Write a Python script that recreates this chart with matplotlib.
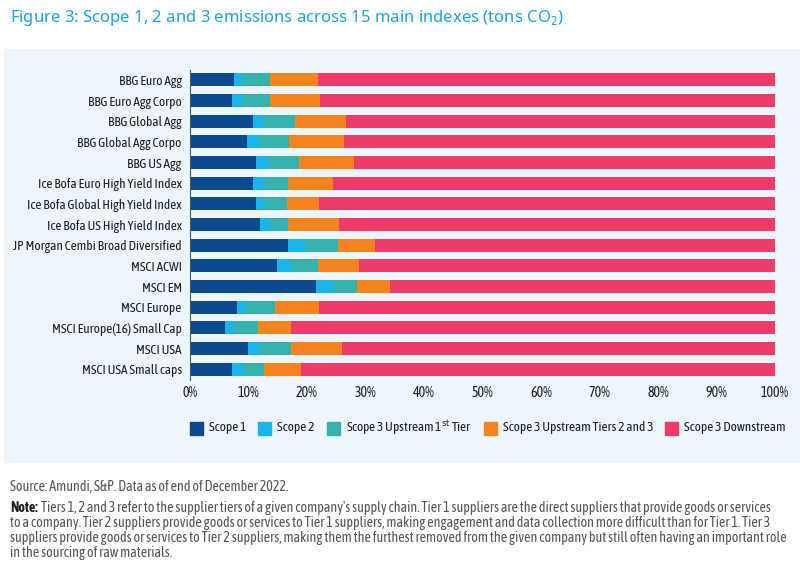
import matplotlib
matplotlib.use("Agg")
import matplotlib.pyplot as plt
from matplotlib.patches import Rectangle
from matplotlib.font_manager import findfont, FontProperties

# index names, top to bottom
indexes = [
    "BBG Euro Agg", "BBG Euro Agg Corpo", "BBG Global Agg", "BBG Global Agg Corpo",
    "BBG US Agg", "Ice Bofa Euro High Yield Index", "Ice Bofa Global High Yield Index",
    "Ice Bofa US High Yield Index", "JP Morgan Cembi Broad Diversified", "MSCI ACWI",
    "MSCI EM", "MSCI Europe", "MSCI Europe(16) Small Cap", "MSCI USA", "MSCI USA Small caps",
]

# shares in %
scope1 = [7.5, 7.1, 10.7, 9.8, 11.3, 10.8, 11.3, 11.9, 16.8, 14.9, 21.5, 8.1, 6.0, 9.9, 7.1]
scope2 = [1.4, 1.8, 2.0, 2.0, 2.0, 1.8, 1.4, 1.8, 2.9, 2.4, 2.9, 1.4, 1.5, 1.9, 2.1]
scope3_t1 = [4.8, 4.7, 5.2, 5.2, 5.4, 4.2, 3.8, 3.1, 5.6, 4.6, 4.2, 5.0, 4.1, 5.5, 3.5]
scope3_t23 = [8.2, 8.7, 8.8, 9.3, 9.3, 7.6, 5.6, 8.6, 6.3, 7.0, 5.6, 7.6, 5.7, 8.7, 6.3]
scope3_down = [100 - a - b - c - d for a, b, c, d in zip(scope1, scope2, scope3_t1, scope3_t23)]

series = [scope1, scope2, scope3_t1, scope3_t23, scope3_down]
labels = ["Scope 1", "Scope 2", "Scope 3 Upstream 1$^{\\rm st}$ Tier",
          "Scope 3 Upstream Tiers 2 and 3", "Scope 3 Downstream"]
colors = ["#0b4a8e", "#19b4ea", "#36b2ae", "#f5841f", "#ee3b68"]
ticks = [0, 10, 20, 30, 40, 50, 60, 70, 80, 90, 100]


def pick_font(candidates):
    # first condensed family that really resolves to a condensed file
    for fam, stretch in candidates:
        try:
            path = findfont(FontProperties(family=fam, stretch=stretch), fallback_to_default=False)
        except Exception:
            continue
        if "Condensed" in path or "Narrow" in path:
            return fam, stretch
    return None, None


cond_fam, cond_stretch = pick_font([
    ("Open Sans Condensed", "condensed"), ("Open Sans", "condensed"),
    ("Noto Sans", "semi-condensed"), ("Noto Sans", "condensed"),
    ("Asap Condensed", "condensed"), ("Barlow Semi Condensed", "condensed"),
    ("Liberation Sans Narrow", "condensed"),
])
if cond_fam:
    plt.rcParams["font.family"] = [cond_fam, "DejaVu Sans"]
    plt.rcParams["font.stretch"] = cond_stretch
    fs, lfs, nfs = 9.5, 9.5, 10.05
else:
    plt.rcParams["font.family"] = ["Open Sans", "DejaVu Sans"]
    fs, lfs, nfs = 7.6, 7.6, 7.8

W, H = 800, 575
fig = plt.figure(figsize=(8, 5.75), dpi=100)
fig.patches.append(Rectangle((4 / W, 1 - 462 / H), 796 / W, 413 / H,
                             transform=fig.transFigure, color="#edf5fd", zorder=-5))

ax = fig.add_axes([190 / W, 1 - 379.5 / H, 585 / W, 310 / H])
ax.set_facecolor("none")

ypos = list(range(len(indexes)))
left = [0] * len(indexes)
for vals, lab, col in zip(series, labels, colors):
    ax.barh(ypos, vals, left=left, height=0.62, color=col, label=lab, zorder=2)
    left = [l + v for l, v in zip(left, vals)]

ax.set_ylim(len(indexes) - 0.5, -0.5)
ax.set_yticks(ypos)
ax.set_yticklabels(indexes, fontsize=fs, color="#1e1e1e")
ax.set_xlim(0, 100)
ax.set_xticks(ticks)
ax.set_xticklabels([f"{t}%" for t in ticks], fontsize=fs + 0.6, color="#1e1e1e")
ax.tick_params(axis="both", length=0, pad=6)
ax.tick_params(axis="x", pad=5)
for s in ["top", "right", "bottom"]:
    ax.spines[s].set_visible(False)
ax.spines["left"].set_color("#555555")
ax.spines["left"].set_linewidth(0.8)

# legend laid out by hand, one entry after another
fig.canvas.draw()
renderer = fig.canvas.get_renderer()
x = 190
ly = 428
for lab, col in zip(labels, colors):
    fig.patches.append(Rectangle((x / W, 1 - (ly + 6.5) / H), 13 / W, 13 / H,
                                 transform=fig.transFigure, color=col))
    t = fig.text((x + 19) / W, 1 - ly / H, lab, fontsize=lfs, color="#1e1e1e",
                 va="center", ha="left")
    bb = t.get_window_extent(renderer)
    x = bb.x1 + 12

fig.text(10 / W, 1 - 18 / H,
         "Figure 3: Scope 1, 2 and 3 emissions across 15 main indexes (tons CO$_2$)",
         fontsize=12, color="#1ba1dc", va="center", ha="left",
         family=["Noto Sans", "DejaVu Sans"], stretch="normal")

fig.text(10 / W, 1 - 487 / H, "Source: Amundi, S&P. Data as of end of December 2022.",
         fontsize=nfs, color="#555555", va="center", ha="left")

note_lines = [
    "Tiers 1, 2 and 3 refer to the supplier tiers of a given company's supply chain. Tier 1 suppliers are the direct suppliers that provide goods or services",
    "to a company. Tier 2 suppliers provide goods or services to Tier 1 suppliers, making engagement and data collection more difficult than for Tier 1. Tier 3",
    "suppliers provide goods or services to Tier 2 suppliers, making them the furthest removed from the given company but still often having an important role",
    "in the sourcing of raw materials.",
]
note = fig.text(10 / W, 1 - 508 / H, "Note:", fontsize=nfs, color="#222222",
                fontweight="bold", va="center", ha="left")
bb = note.get_window_extent(renderer).transformed(fig.transFigure.inverted())
for i, line in enumerate(note_lines):
    x0 = bb.x1 + 3 / W if i == 0 else 10 / W
    fig.text(x0, 1 - (508 + 15 * i) / H, line, fontsize=nfs, color="#555555",
             va="center", ha="left")

fig.savefig("out.png", dpi=100)
